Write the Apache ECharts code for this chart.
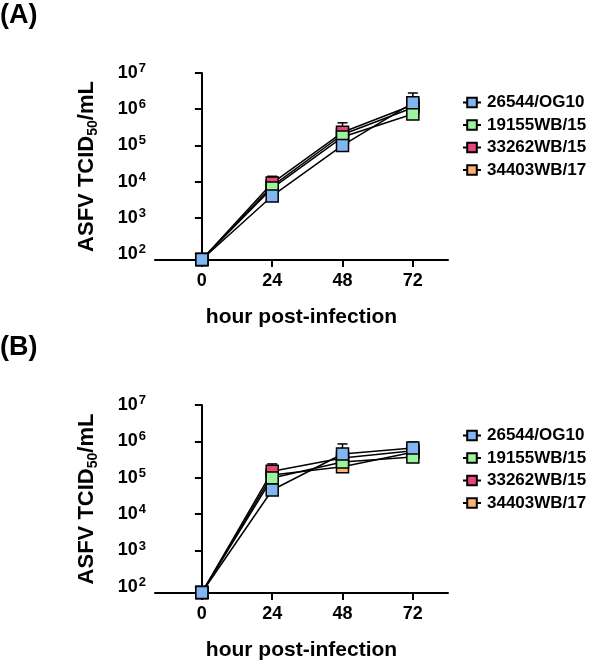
<!DOCTYPE html>
<html lang="en">
<head>
<meta charset="UTF-8">
<title>ASFV growth curves</title>
<script src="https://cdn.jsdelivr.net/npm/echarts@6/dist/echarts.min.js"></script>
<style>
  html, body { margin: 0; padding: 0; background: #fff; }
  #main { width: 597px; height: 663px; }
</style>
</head>
<body>
<div id="main"></div>
<script>
// time points (hours post-infection)
const hours = [0, 24, 48, 72];
const strains = ['26544/OG10', '19155WB/15', '33262WB/15', '34403WB/17'];
const colors = ['#82b6f2', '#9cf59c', '#e8467c', '#fab370'];

// panel A: mean titres and upper error bar ends
const titreA = [
  [70, 4000, 100000, 1500000],
  [70, 6600, 170000, 740000],
  [70, 9100, 230000, 1300000],
  [70, 7500, 200000, 1100000]
];
const upperA = [
  [70, 5500, 140000, 2800000],
  [70, 9000, 250000, 1100000],
  [70, 14000, 420000, 2000000],
  [70, 10000, 300000, 1600000]
];

// panel B
const titreB = [
  [70, 46000, 450000, 660000],
  [70, 98000, 270000, 370000],
  [70, 150000, 350000, 550000],
  [70, 120000, 200000, 500000]
];
const upperB = [
  [70, 60000, 850000, 960000],
  [70, 130000, 380000, 500000],
  [70, 240000, 500000, 750000],
  [70, 160000, 280000, 650000]
];

const yTicks = [100, 1000, 10000, 100000, 1000000, 10000000];
const font = 'Liberation Sans, Arial, sans-serif';

function errorBars(params, api) {
  const x = api.value(0);
  const p0 = api.coord([x, api.value(1)]);
  const p1 = api.coord([x, api.value(2)]);
  const st = { stroke: '#000', lineWidth: 1.5 };
  return {
    type: 'group',
    children: [
      { type: 'line', shape: { x1: p0[0], y1: p0[1], x2: p1[0], y2: p1[1] }, style: st },
      { type: 'line', shape: { x1: p1[0] - 5, y1: p1[1], x2: p1[0] + 5, y2: p1[1] }, style: st }
    ]
  };
}

function makeAxes(i) {
  const xAxis = {
    type: 'value', gridIndex: i, min: -16, max: 84,
    name: 'hour post-infection', nameLocation: 'middle', nameGap: 47,
    nameTextStyle: { fontFamily: font, fontWeight: 'bold', fontSize: 21, color: '#000' },
    axisLine: { lineStyle: { color: '#000', width: 2 } },
    axisTick: { length: 7, lineStyle: { color: '#000', width: 2 }, customValues: hours },
    axisLabel: { customValues: hours, margin: 12, fontFamily: font, fontWeight: 'bold', fontSize: 18, color: '#000' },
    splitLine: { show: false }
  };
  const yAxis = {
    type: 'log', gridIndex: i, min: 68, max: 10000000, logBase: 10,
    name: 'ASFV TCID{sub|50}/mL', nameLocation: 'middle', nameGap: 55, nameRotate: 90,
    nameTextStyle: {
      fontFamily: font, fontWeight: 'bold', fontSize: 22, color: '#000',
      rich: { sub: { fontFamily: font, fontWeight: 'bold', fontSize: 14, color: '#000', padding: [12, 0, 0, 0] } }
    },
    axisLine: { show: true, lineStyle: { color: '#000', width: 2 } },
    axisTick: { show: true, length: 7, lineStyle: { color: '#000', width: 2 }, customValues: yTicks },
    axisLabel: {
      customValues: yTicks, margin: 9, color: '#000',
      fontFamily: font, fontWeight: 'bold', fontSize: 18,
      formatter: v => '10{s|' + Math.round(Math.log10(v)) + '}',
      rich: { s: { fontFamily: font, fontWeight: 'bold', fontSize: 13, color: '#000', padding: [0, 0, 9, 1] } }
    },
    splitLine: { show: false },
    minorTick: { show: false }
  };
  return [xAxis, yAxis];
}

function makeSeries(i, titre, upper) {
  const out = [];
  // error bars first so markers sit on top
  for (let k = strains.length - 1; k >= 0; k--) {
    out.push({
      type: 'custom', name: 'err' + i + k, xAxisIndex: i, yAxisIndex: i, z: 1,
      renderItem: errorBars, encode: { x: 0, y: [1, 2] },
      data: hours.map((h, j) => [h, titre[k][j], upper[k][j]])
    });
  }
  // last listed strain is drawn first, first strain ends up on top
  for (let k = strains.length - 1; k >= 0; k--) {
    out.push({
      type: 'line', name: strains[k], xAxisIndex: i, yAxisIndex: i, z: 2,
      data: hours.map((h, j) => [h, titre[k][j]]),
      symbol: 'rect', symbolSize: 12, showAllSymbol: true,
      lineStyle: { color: '#000', width: 1.5 },
      itemStyle: { color: colors[k], borderColor: '#000', borderWidth: 1.5 },
      emphasis: { disabled: true },
      animation: false
    });
  }
  return out;
}

const axA = makeAxes(0);
const axB = makeAxes(1);

function legend(top) {
  return {
    orient: 'vertical', left: 457, top: top,
    data: strains, itemWidth: 18, itemHeight: 12, itemGap: 5.5,
    textStyle: { fontFamily: font, fontWeight: 'bold', fontSize: 17, color: '#000', lineHeight: 17, padding: [0, 0, 0, 1] }
  };
}

const option = {
  animation: false,
  graphic: [
    { type: 'text', left: 0, top: 2, style: { text: '(A)', font: 'bold 27px ' + font, fill: '#000' } },
    { type: 'text', left: 0, top: 334, style: { text: '(B)', font: 'bold 27px ' + font, fill: '#000' } }
  ],
  legend: [legend(89), legend(422)],
  grid: [
    { left: 155, top: 73, width: 293, height: 187 },
    { left: 155, top: 405, width: 293, height: 188 }
  ],
  xAxis: [axA[0], axB[0]],
  yAxis: [axA[1], axB[1]],
  series: [...makeSeries(0, titreA, upperA), ...makeSeries(1, titreB, upperB)]
};

const chart = echarts.init(document.getElementById('main'));
chart.setOption(option);
</script>
</body>
</html>
